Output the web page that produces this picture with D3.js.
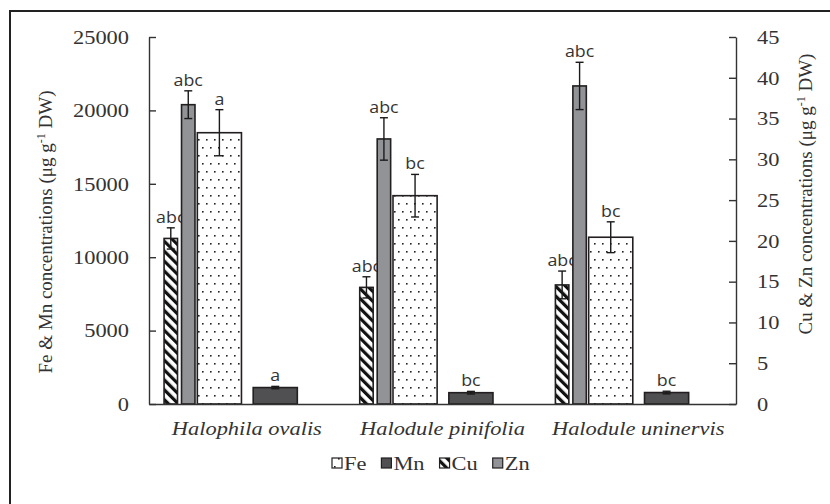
<!DOCTYPE html>
<html>
<head>
<meta charset="utf-8">
<script src="https://cdn.jsdelivr.net/npm/d3@7"></script>
<style>
  body { margin: 0; background: #fff; }
  svg { display: block; }
</style>
</head>
<body>
<svg id="chart"></svg>
<script>
// data
const categories = ['Halophila ovalis', 'Halodule pinifolia', 'Halodule uninervis'];
const feValues = [18480, 14190, 11360];
const feErrors = [1570, 1450, 1050];
const feLabels = ['a', 'bc', 'bc'];
const mnValues = [1120, 770, 780];
const mnErrors = [80, 90, 90];
const mnLabels = ['a', 'bc', 'bc'];
const cuValues = [20.3, 14.3, 14.6];
const cuErrors = [1.3, 1.3, 1.7];
const cuLabels = ['abc', 'abc', 'abc'];
const znValues = [36.7, 32.5, 39.0];
const znErrors = [1.7, 2.6, 2.9];
const znLabels = ['abc', 'abc', 'abc'];
const leftTicks = [0, 5000, 10000, 15000, 20000, 25000];
const rightTicks = [0, 5, 10, 15, 20, 25, 30, 35, 40, 45];
const legendItems = ['Fe', 'Mn', 'Cu', 'Zn'];

const W = 830, H = 504;
const svg = d3.select('#chart').attr('width', W).attr('height', H);

const plotLeft = 149, plotRight = 736, plotTop = 37, plotBottom = 404;
const K = 1.15; // the original picture is a bit wider than tall, text looks stretched

// stretch horizontal text without moving its anchor
function stretch(sel) {
    sel.each(function () {
        const t = d3.select(this);
        const x0 = +(t.attr('x') || 0);
        t.attr('x', x0 / K).attr('transform', `scale(${K},1)`);
    });
}

const defs = svg.append('defs');
// hatched (Cu)
const hatch = defs.append('pattern')
    .attr('id', 'hatch')
    .attr('patternUnits', 'userSpaceOnUse')
    .attr('width', 7).attr('height', 7)
    .attr('patternTransform', 'rotate(-45)');
hatch.append('rect').attr('width', 7).attr('height', 7).attr('fill', '#fff');
hatch.append('rect').attr('x', 0).attr('width', 3.2).attr('height', 7).attr('fill', '#111');
// dotted (Fe)
const dots = defs.append('pattern')
    .attr('id', 'dots')
    .attr('patternUnits', 'userSpaceOnUse')
    .attr('width', 8).attr('height', 16);
dots.append('rect').attr('width', 8).attr('height', 16).attr('fill', '#fff');
[[2, 3], [6, 11]].forEach(p => {
    dots.append('rect').attr('x', p[0]).attr('y', p[1]).attr('width', 1.6).attr('height', 1.6).attr('fill', '#222');
});

// outer frame (cut off by the picture at right and bottom)
svg.append('rect')
    .attr('x', 10).attr('y', 11)
    .attr('width', W).attr('height', H)
    .attr('fill', 'none')
    .attr('stroke', '#222')
    .attr('stroke-width', 2);

const x = d3.scaleBand().domain(categories).range([plotLeft, plotRight]).padding(0);
const bw = x.bandwidth();
const xPrim = d3.scaleBand().domain(['Fe', 'Mn'])
    .range([bw * 0.247, bw * 0.758]).paddingInner(0.21).paddingOuter(0);
const xSec = d3.scaleBand().domain(['Cu', 'Zn'])
    .range([bw * 0.077, bw * 0.235]).paddingInner(0.23).paddingOuter(0);

const yL = d3.scaleLinear().domain([0, 25000]).range([plotBottom, plotTop]);
const yR = d3.scaleLinear().domain([0, 45]).range([plotBottom, plotTop]);

const series = [
    { key: 'Fe', values: feValues, errors: feErrors, labels: feLabels, y: yL, sx: xPrim, fill: 'url(#dots)' },
    { key: 'Mn', values: mnValues, errors: mnErrors, labels: mnLabels, y: yL, sx: xPrim, fill: '#505052' },
    { key: 'Cu', values: cuValues, errors: cuErrors, labels: cuLabels, y: yR, sx: xSec, fill: 'url(#hatch)' },
    { key: 'Zn', values: znValues, errors: znErrors, labels: znLabels, y: yR, sx: xSec, fill: '#929396' }
];

series.forEach(s => {
    const g = svg.append('g').attr('class', 'series-' + s.key);
    const rows = categories.map((c, i) => ({ c: c, v: s.values[i], e: s.errors[i], l: s.labels[i] }));
    const bx = d => x(d.c) + s.sx(s.key);
    const cx = d => bx(d) + s.sx.bandwidth() / 2;

    g.selectAll('rect')
        .data(rows)
        .enter()
        .append('rect')
        .attr('x', bx)
        .attr('y', d => s.y(d.v))
        .attr('width', s.sx.bandwidth())
        .attr('height', d => s.y(0) - s.y(d.v))
        .attr('fill', s.fill)
        .attr('stroke', '#231f20')
        .attr('stroke-width', 1.6);

    // error bars
    const eb = g.selectAll('g.err').data(rows).enter().append('g').attr('class', 'err')
        .attr('stroke', '#1a1a1a').attr('stroke-width', 1.4);
    eb.append('line')
        .attr('x1', cx).attr('x2', cx)
        .attr('y1', d => s.y(d.v + d.e)).attr('y2', d => s.y(d.v - d.e));
    eb.append('line')
        .attr('x1', d => cx(d) - 4).attr('x2', d => cx(d) + 4)
        .attr('y1', d => s.y(d.v + d.e)).attr('y2', d => s.y(d.v + d.e));
    eb.append('line')
        .attr('x1', d => cx(d) - 4).attr('x2', d => cx(d) + 4)
        .attr('y1', d => s.y(d.v - d.e)).attr('y2', d => s.y(d.v - d.e));

    // letters
    g.selectAll('text')
        .data(rows)
        .enter()
        .append('text')
        .attr('x', cx)
        .attr('y', d => s.y(d.v + d.e) - 5)
        .attr('text-anchor', 'middle')
        .style('font-family', '"Open Sans", sans-serif')
        .style('font-size', '15.5px')
        .style('fill', '#333')
        .text(d => d.l)
        .call(stretch);
});

// axes
const axisColor = '#333';
const serif = '"Liberation Serif", "Times New Roman", serif';

const gL = svg.append('g').attr('transform', `translate(${plotLeft},0)`)
    .call(d3.axisLeft(yL).tickValues(leftTicks).tickFormat(d3.format('d'))
        .tickSize(-7).tickSizeOuter(0).tickPadding(20));
const gR = svg.append('g').attr('transform', `translate(${plotRight},0)`)
    .call(d3.axisRight(yR).tickValues(rightTicks).tickFormat(d3.format('d'))
        .tickSize(-7).tickSizeOuter(0).tickPadding(21));
const gB = svg.append('g').attr('transform', `translate(0,${plotBottom})`)
    .call(d3.axisBottom(x).tickSize(0).tickPadding(17));

[gL, gR, gB].forEach(g => {
    g.select('.domain').attr('stroke', axisColor).attr('stroke-width', 1.4);
    g.selectAll('.tick line').attr('stroke', axisColor).attr('stroke-width', 1.4);
    g.selectAll('text')
        .style('font-family', serif)
        .style('font-size', '19.5px')
        .style('fill', '#333')
        .call(stretch);
});
gB.selectAll('text').style('font-style', 'italic');

// axis titles
function axisTitle(label, tx, ty) {
    const t = svg.append('text')
        .attr('transform', `translate(${tx},${ty}) rotate(-90)`)
        .attr('text-anchor', 'middle')
        .style('font-family', serif)
        .style('font-size', '19px')
        .style('fill', '#333');
    t.append('tspan').text(label + ' (μg g');
    t.append('tspan').attr('dy', -7).style('font-size', '12px').text('-1');
    t.append('tspan').attr('dy', 7).text(' DW)');
}
axisTitle('Fe & Mn concentrations', 52, 232);
axisTitle('Cu & Zn concentrations', 812, 194);

// legend, laid out one item after the other
const legendFills = ['url(#dots)', '#505052', 'url(#hatch)', '#929396'];
const legend = svg.append('g').attr('transform', 'translate(332,463)');
let lx = 0;
legendItems.forEach((name, i) => {
    const item = legend.append('g').attr('transform', `translate(${lx},0)`);
    item.append('rect')
        .attr('x', 0).attr('y', -5)
        .attr('width', 10).attr('height', 10)
        .attr('fill', legendFills[i])
        .attr('stroke', '#231f20')
        .attr('stroke-width', 1.2);
    const t = item.append('text')
        .attr('x', 12).attr('y', 6.5)
        .style('font-family', serif)
        .style('font-size', '19.5px')
        .style('fill', '#333')
        .text(name)
        .call(stretch);
    lx += 12 + t.node().getComputedTextLength() * K + 15;
});
</script>
</body>
</html>
